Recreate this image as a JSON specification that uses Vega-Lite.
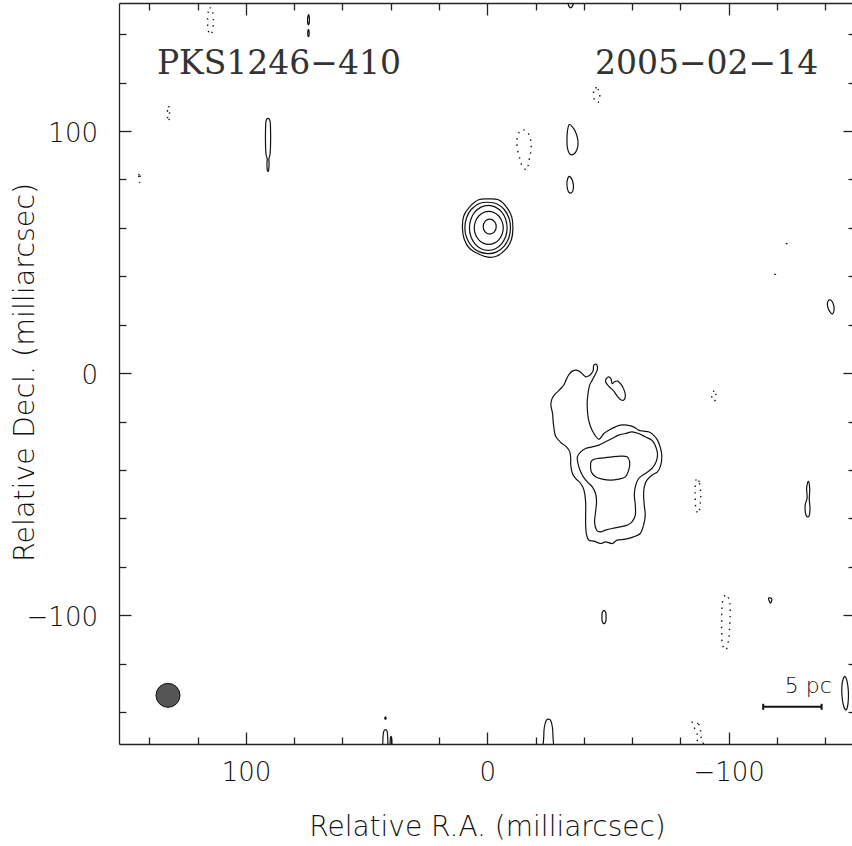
{
"$schema":"https://vega.github.io/schema/vega-lite/v6.json",
"width":733,"height":741,
"autosize":{"type":"none"},
"padding":{"left":119,"top":3,"right":0,"bottom":102},
"background":"white",
"config":{"view":{"stroke":null}},
"resolve":{"axis":{"x":"independent","y":"independent"}},
"datasets":{"contours":[
{"id":"c1","kind":"p","i":0,"ra":10.3,"dec":60},{"id":"c1","kind":"p","i":1,"ra":9.8,"dec":64.8},{"id":"c1","kind":"p","i":2,"ra":7.4,"dec":68.6},{"id":"c1","kind":"p","i":3,"ra":3.6,"dec":71.6},{"id":"c1","kind":"p","i":4,"ra":-0.5,"dec":72.0},{"id":"c1","kind":"p","i":5,"ra":-4.6,"dec":71.6},{"id":"c1","kind":"p","i":6,"ra":-7.8,"dec":68.8},{"id":"c1","kind":"p","i":7,"ra":-10.1,"dec":64.6},{"id":"c1","kind":"p","i":8,"ra":-10.6,"dec":59.8},{"id":"c1","kind":"p","i":9,"ra":-10.0,"dec":55.2},{"id":"c1","kind":"p","i":10,"ra":-7.8,"dec":51.3},{"id":"c1","kind":"p","i":11,"ra":-4.0,"dec":48.4},{"id":"c1","kind":"p","i":12,"ra":-0.3,"dec":47.9},{"id":"c1","kind":"p","i":13,"ra":3.6,"dec":49.2},{"id":"c1","kind":"p","i":14,"ra":7.4,"dec":51.6},{"id":"c1","kind":"p","i":15,"ra":9.6,"dec":55.4},
{"id":"c2","kind":"p","i":0,"ra":9.3,"dec":60},{"id":"c2","kind":"p","i":1,"ra":8.6,"dec":64.2},{"id":"c2","kind":"p","i":2,"ra":6.6,"dec":67.7},{"id":"c2","kind":"p","i":3,"ra":3.3,"dec":70.1},{"id":"c2","kind":"p","i":4,"ra":-0.4,"dec":70.6},{"id":"c2","kind":"p","i":5,"ra":-3.9,"dec":70.0},{"id":"c2","kind":"p","i":6,"ra":-7.0,"dec":67.6},{"id":"c2","kind":"p","i":7,"ra":-9.0,"dec":64.0},{"id":"c2","kind":"p","i":8,"ra":-9.6,"dec":60.0},{"id":"c2","kind":"p","i":9,"ra":-8.9,"dec":55.8},{"id":"c2","kind":"p","i":10,"ra":-6.9,"dec":52.4},{"id":"c2","kind":"p","i":11,"ra":-3.7,"dec":50.0},{"id":"c2","kind":"p","i":12,"ra":-0.2,"dec":49.4},{"id":"c2","kind":"p","i":13,"ra":3.5,"dec":50.2},{"id":"c2","kind":"p","i":14,"ra":6.5,"dec":52.5},{"id":"c2","kind":"p","i":15,"ra":8.6,"dec":56.0},
{"id":"c3","kind":"p","i":0,"ra":7.4,"dec":60},{"id":"c3","kind":"p","i":1,"ra":6.81,"dec":63.56},{"id":"c3","kind":"p","i":2,"ra":5.11,"dec":66.58},{"id":"c3","kind":"p","i":3,"ra":2.59,"dec":68.59},{"id":"c3","kind":"p","i":4,"ra":-0.4,"dec":69.3},{"id":"c3","kind":"p","i":5,"ra":-3.39,"dec":68.59},{"id":"c3","kind":"p","i":6,"ra":-5.91,"dec":66.58},{"id":"c3","kind":"p","i":7,"ra":-7.61,"dec":63.56},{"id":"c3","kind":"p","i":8,"ra":-8.2,"dec":60},{"id":"c3","kind":"p","i":9,"ra":-7.61,"dec":56.44},{"id":"c3","kind":"p","i":10,"ra":-5.91,"dec":53.42},{"id":"c3","kind":"p","i":11,"ra":-3.39,"dec":51.41},{"id":"c3","kind":"p","i":12,"ra":-0.4,"dec":50.7},{"id":"c3","kind":"p","i":13,"ra":2.59,"dec":51.41},{"id":"c3","kind":"p","i":14,"ra":5.11,"dec":53.42},{"id":"c3","kind":"p","i":15,"ra":6.81,"dec":56.44},
{"id":"c4","kind":"p","i":0,"ra":5.4,"dec":60},{"id":"c4","kind":"p","i":1,"ra":4.94,"dec":62.6},{"id":"c4","kind":"p","i":2,"ra":3.64,"dec":64.81},{"id":"c4","kind":"p","i":3,"ra":1.7,"dec":66.28},{"id":"c4","kind":"p","i":4,"ra":-0.6,"dec":66.8},{"id":"c4","kind":"p","i":5,"ra":-2.9,"dec":66.28},{"id":"c4","kind":"p","i":6,"ra":-4.84,"dec":64.81},{"id":"c4","kind":"p","i":7,"ra":-6.14,"dec":62.6},{"id":"c4","kind":"p","i":8,"ra":-6.6,"dec":60},{"id":"c4","kind":"p","i":9,"ra":-6.14,"dec":57.4},{"id":"c4","kind":"p","i":10,"ra":-4.84,"dec":55.19},{"id":"c4","kind":"p","i":11,"ra":-2.9,"dec":53.72},{"id":"c4","kind":"p","i":12,"ra":-0.6,"dec":53.2},{"id":"c4","kind":"p","i":13,"ra":1.7,"dec":53.72},{"id":"c4","kind":"p","i":14,"ra":3.64,"dec":55.19},{"id":"c4","kind":"p","i":15,"ra":4.94,"dec":57.4},
{"id":"c5","kind":"p","i":0,"ra":1.7,"dec":60.5},{"id":"c5","kind":"p","i":1,"ra":0.91,"dec":62.69},{"id":"c5","kind":"p","i":2,"ra":-1,"dec":63.6},{"id":"c5","kind":"p","i":3,"ra":-2.91,"dec":62.69},{"id":"c5","kind":"p","i":4,"ra":-3.7,"dec":60.5},{"id":"c5","kind":"p","i":5,"ra":-2.91,"dec":58.31},{"id":"c5","kind":"p","i":6,"ra":-1,"dec":57.4},{"id":"c5","kind":"p","i":7,"ra":0.91,"dec":58.31},
{"id":"L1","kind":"p","i":1,"ra":-43.9,"dec":1.24},{"id":"L1","kind":"p","i":2,"ra":-43.21,"dec":-0.14},{"id":"L1","kind":"p","i":3,"ra":-42.11,"dec":-1.1},{"id":"L1","kind":"p","i":4,"ra":-40.74,"dec":-1.52},{"id":"L1","kind":"p","i":5,"ra":-39.64,"dec":-0.55},{"id":"L1","kind":"p","i":6,"ra":-38.41,"dec":0.55},{"id":"L1","kind":"p","i":7,"ra":-36.9,"dec":1.24},{"id":"L1","kind":"p","i":8,"ra":-35.25,"dec":0.83},{"id":"L1","kind":"p","i":9,"ra":-33.88,"dec":-0.55},{"id":"L1","kind":"p","i":10,"ra":-32.78,"dec":-2.48},{"id":"L1","kind":"p","i":11,"ra":-31.82,"dec":-4.68},{"id":"L1","kind":"p","i":12,"ra":-30.45,"dec":-6.34},{"id":"L1","kind":"p","i":13,"ra":-29.08,"dec":-7.71},{"id":"L1","kind":"p","i":14,"ra":-27.71,"dec":-9.09},{"id":"L1","kind":"p","i":15,"ra":-26.75,"dec":-10.74},{"id":"L1","kind":"p","i":16,"ra":-26.34,"dec":-13.22},{"id":"L1","kind":"p","i":17,"ra":-27.02,"dec":-16.67},{"id":"L1","kind":"p","i":18,"ra":-27.3,"dec":-20.11},{"id":"L1","kind":"p","i":19,"ra":-27.71,"dec":-23.55},{"id":"L1","kind":"p","i":20,"ra":-28.4,"dec":-26.31},{"id":"L1","kind":"p","i":21,"ra":-30.45,"dec":-28.65},{"id":"L1","kind":"p","i":22,"ra":-32.78,"dec":-30.44},{"id":"L1","kind":"p","i":23,"ra":-34.16,"dec":-32.51},{"id":"L1","kind":"p","i":24,"ra":-34.57,"dec":-35.26},{"id":"L1","kind":"p","i":25,"ra":-34.57,"dec":-38.02},{"id":"L1","kind":"p","i":26,"ra":-35.26,"dec":-41.46},{"id":"L1","kind":"p","i":27,"ra":-36.63,"dec":-43.53},{"id":"L1","kind":"p","i":28,"ra":-38.69,"dec":-45.59},{"id":"L1","kind":"p","i":29,"ra":-40.06,"dec":-48.35},{"id":"L1","kind":"p","i":30,"ra":-40.74,"dec":-53.17},{"id":"L1","kind":"p","i":31,"ra":-40.74,"dec":-58.68},{"id":"L1","kind":"p","i":32,"ra":-40.74,"dec":-62.81},{"id":"L1","kind":"p","i":33,"ra":-41.15,"dec":-66.94},{"id":"L1","kind":"p","i":34,"ra":-42.11,"dec":-69.01},{"id":"L1","kind":"p","i":35,"ra":-44.17,"dec":-69.42},{"id":"L1","kind":"p","i":36,"ra":-46.92,"dec":-70.38},{"id":"L1","kind":"p","i":37,"ra":-48.97,"dec":-69.7},{"id":"L1","kind":"p","i":38,"ra":-51.72,"dec":-70.38},{"id":"L1","kind":"p","i":39,"ra":-53.77,"dec":-69.01},{"id":"L1","kind":"p","i":40,"ra":-57.2,"dec":-68.59},{"id":"L1","kind":"p","i":41,"ra":-60.63,"dec":-67.63},{"id":"L1","kind":"p","i":42,"ra":-63.38,"dec":-66.25},{"id":"L1","kind":"p","i":43,"ra":-64.75,"dec":-62.81},{"id":"L1","kind":"p","i":44,"ra":-65.43,"dec":-58.68},{"id":"L1","kind":"p","i":45,"ra":-65.02,"dec":-54.54},{"id":"L1","kind":"p","i":46,"ra":-64.75,"dec":-50.41},{"id":"L1","kind":"p","i":47,"ra":-65.02,"dec":-46.97},{"id":"L1","kind":"p","i":48,"ra":-66.12,"dec":-44.21},{"id":"L1","kind":"p","i":49,"ra":-68.18,"dec":-42.15},{"id":"L1","kind":"p","i":50,"ra":-70.51,"dec":-40.77},{"id":"L1","kind":"p","i":51,"ra":-71.88,"dec":-38.02},{"id":"L1","kind":"p","i":52,"ra":-72.29,"dec":-33.88},{"id":"L1","kind":"p","i":53,"ra":-71.61,"dec":-30.44},{"id":"L1","kind":"p","i":54,"ra":-70.51,"dec":-27.69},{"id":"L1","kind":"p","i":55,"ra":-68.86,"dec":-25.62},{"id":"L1","kind":"p","i":56,"ra":-66.81,"dec":-24.24},{"id":"L1","kind":"p","i":57,"ra":-64.75,"dec":-23.97},{"id":"L1","kind":"p","i":58,"ra":-62.69,"dec":-23.55},{"id":"L1","kind":"p","i":59,"ra":-60.63,"dec":-22.18},{"id":"L1","kind":"p","i":60,"ra":-57.89,"dec":-21.49},{"id":"L1","kind":"p","i":61,"ra":-55.15,"dec":-21.49},{"id":"L1","kind":"p","i":62,"ra":-53.09,"dec":-22.18},{"id":"L1","kind":"p","i":63,"ra":-50.35,"dec":-23.55},{"id":"L1","kind":"p","i":64,"ra":-48.29,"dec":-24.93},{"id":"L1","kind":"p","i":65,"ra":-46.23,"dec":-27.27},{"id":"L1","kind":"p","i":66,"ra":-44.17,"dec":-24.93},{"id":"L1","kind":"p","i":67,"ra":-42.8,"dec":-22.18},{"id":"L1","kind":"p","i":68,"ra":-41.84,"dec":-18.73},{"id":"L1","kind":"p","i":69,"ra":-41.43,"dec":-14.6},{"id":"L1","kind":"p","i":70,"ra":-41.43,"dec":-11.16},{"id":"L1","kind":"p","i":71,"ra":-41.84,"dec":-7.71},{"id":"L1","kind":"p","i":72,"ra":-42.39,"dec":-4.96},{"id":"L1","kind":"p","i":73,"ra":-43.48,"dec":-2.89},{"id":"L1","kind":"p","i":74,"ra":-44.58,"dec":-0.83},{"id":"L1","kind":"p","i":75,"ra":-45.54,"dec":1.24},{"id":"L1","kind":"p","i":76,"ra":-45.54,"dec":3.03},{"id":"L1","kind":"p","i":77,"ra":-44.86,"dec":3.72},{"id":"L1","kind":"p","i":78,"ra":-44.03,"dec":3.03},
{"id":"L2","kind":"p","i":1,"ra":-37.31,"dec":-34.57},{"id":"L2","kind":"p","i":2,"ra":-38.69,"dec":-32.51},{"id":"L2","kind":"p","i":3,"ra":-40.74,"dec":-31.13},{"id":"L2","kind":"p","i":4,"ra":-43.49,"dec":-30.44},{"id":"L2","kind":"p","i":5,"ra":-46.23,"dec":-29.75},{"id":"L2","kind":"p","i":6,"ra":-48.97,"dec":-28.37},{"id":"L2","kind":"p","i":7,"ra":-51.72,"dec":-27.0},{"id":"L2","kind":"p","i":8,"ra":-54.46,"dec":-25.62},{"id":"L2","kind":"p","i":9,"ra":-57.2,"dec":-24.93},{"id":"L2","kind":"p","i":10,"ra":-59.95,"dec":-24.24},{"id":"L2","kind":"p","i":11,"ra":-62.69,"dec":-24.93},{"id":"L2","kind":"p","i":12,"ra":-65.43,"dec":-26.31},{"id":"L2","kind":"p","i":13,"ra":-68.18,"dec":-27.69},{"id":"L2","kind":"p","i":14,"ra":-69.55,"dec":-29.75},{"id":"L2","kind":"p","i":15,"ra":-70.51,"dec":-33.2},{"id":"L2","kind":"p","i":16,"ra":-69.96,"dec":-36.64},{"id":"L2","kind":"p","i":17,"ra":-68.18,"dec":-39.39},{"id":"L2","kind":"p","i":18,"ra":-65.43,"dec":-41.46},{"id":"L2","kind":"p","i":19,"ra":-62.69,"dec":-43.53},{"id":"L2","kind":"p","i":20,"ra":-61.32,"dec":-46.97},{"id":"L2","kind":"p","i":21,"ra":-60.91,"dec":-50.41},{"id":"L2","kind":"p","i":22,"ra":-61.32,"dec":-54.54},{"id":"L2","kind":"p","i":23,"ra":-61.32,"dec":-58.68},{"id":"L2","kind":"p","i":24,"ra":-59.95,"dec":-61.43},{"id":"L2","kind":"p","i":25,"ra":-57.89,"dec":-62.81},{"id":"L2","kind":"p","i":26,"ra":-55.15,"dec":-63.5},{"id":"L2","kind":"p","i":27,"ra":-51.72,"dec":-64.19},{"id":"L2","kind":"p","i":28,"ra":-48.97,"dec":-64.88},{"id":"L2","kind":"p","i":29,"ra":-46.92,"dec":-65.56},{"id":"L2","kind":"p","i":30,"ra":-45.27,"dec":-64.88},{"id":"L2","kind":"p","i":31,"ra":-44.45,"dec":-61.43},{"id":"L2","kind":"p","i":32,"ra":-44.86,"dec":-57.3},{"id":"L2","kind":"p","i":33,"ra":-45.27,"dec":-53.17},{"id":"L2","kind":"p","i":34,"ra":-44.86,"dec":-49.72},{"id":"L2","kind":"p","i":35,"ra":-43.49,"dec":-46.97},{"id":"L2","kind":"p","i":36,"ra":-41.43,"dec":-44.9},{"id":"L2","kind":"p","i":37,"ra":-39.78,"dec":-42.84},{"id":"L2","kind":"p","i":38,"ra":-38.41,"dec":-40.08},{"id":"L2","kind":"p","i":39,"ra":-37.59,"dec":-37.33},
{"id":"L3","kind":"p","i":1,"ra":-42.8,"dec":-37.33},{"id":"L3","kind":"p","i":2,"ra":-43.49,"dec":-35.95},{"id":"L3","kind":"p","i":3,"ra":-45.54,"dec":-35.26},{"id":"L3","kind":"p","i":4,"ra":-48.29,"dec":-34.99},{"id":"L3","kind":"p","i":5,"ra":-51.72,"dec":-34.57},{"id":"L3","kind":"p","i":6,"ra":-55.15,"dec":-34.3},{"id":"L3","kind":"p","i":7,"ra":-57.89,"dec":-34.57},{"id":"L3","kind":"p","i":8,"ra":-58.99,"dec":-36.64},{"id":"L3","kind":"p","i":9,"ra":-58.58,"dec":-40.08},{"id":"L3","kind":"p","i":10,"ra":-57.2,"dec":-42.84},{"id":"L3","kind":"p","i":11,"ra":-54.46,"dec":-43.8},{"id":"L3","kind":"p","i":12,"ra":-51.03,"dec":-44.21},{"id":"L3","kind":"p","i":13,"ra":-47.6,"dec":-43.8},{"id":"L3","kind":"p","i":14,"ra":-44.86,"dec":-42.84},{"id":"L3","kind":"p","i":15,"ra":-43.07,"dec":-40.77},
{"id":"L4","kind":"p","i":1,"ra":-49.38,"dec":-2.2},{"id":"L4","kind":"p","i":2,"ra":-50.34,"dec":-1.52},{"id":"L4","kind":"p","i":3,"ra":-51.3,"dec":-2.48},{"id":"L4","kind":"p","i":4,"ra":-51.71,"dec":-4.27},{"id":"L4","kind":"p","i":5,"ra":-52.67,"dec":-3.58},{"id":"L4","kind":"p","i":6,"ra":-54.05,"dec":-3.3},{"id":"L4","kind":"p","i":7,"ra":-55.42,"dec":-4.68},{"id":"L4","kind":"p","i":8,"ra":-56.52,"dec":-6.61},{"id":"L4","kind":"p","i":9,"ra":-57.2,"dec":-9.09},{"id":"L4","kind":"p","i":10,"ra":-56.52,"dec":-11.16},{"id":"L4","kind":"p","i":11,"ra":-55.14,"dec":-10.88},{"id":"L4","kind":"p","i":12,"ra":-53.77,"dec":-9.37},{"id":"L4","kind":"p","i":13,"ra":-52.4,"dec":-7.44},{"id":"L4","kind":"p","i":14,"ra":-51.03,"dec":-6.06},{"id":"L4","kind":"p","i":15,"ra":-49.66,"dec":-4.68},{"id":"L4","kind":"p","i":16,"ra":-48.97,"dec":-3.3},
{"id":"F4","kind":"p","i":1,"ra":90.9,"dec":105.2},{"id":"F4","kind":"p","i":2,"ra":90.0,"dec":104.0},{"id":"F4","kind":"p","i":3,"ra":89.8,"dec":100},{"id":"F4","kind":"p","i":4,"ra":89.8,"dec":95},{"id":"F4","kind":"p","i":5,"ra":90.0,"dec":90.5},{"id":"F4","kind":"p","i":6,"ra":90.5,"dec":88.5},{"id":"F4","kind":"p","i":7,"ra":90.4,"dec":86.5},{"id":"F4","kind":"p","i":8,"ra":90.6,"dec":84.0},{"id":"F4","kind":"p","i":9,"ra":90.9,"dec":83.3},{"id":"F4","kind":"p","i":10,"ra":91.2,"dec":84.0},{"id":"F4","kind":"p","i":11,"ra":91.3,"dec":86.5},{"id":"F4","kind":"p","i":12,"ra":91.2,"dec":88.5},{"id":"F4","kind":"p","i":13,"ra":91.7,"dec":90.5},{"id":"F4","kind":"p","i":14,"ra":91.9,"dec":95},{"id":"F4","kind":"p","i":15,"ra":91.9,"dec":100},{"id":"F4","kind":"p","i":16,"ra":91.7,"dec":104.0},
{"id":"F5a","kind":"p","i":1,"ra":74.1,"dec":148.1},{"id":"F5a","kind":"p","i":2,"ra":73.7,"dec":146.0},{"id":"F5a","kind":"p","i":3,"ra":74.1,"dec":143.9},{"id":"F5a","kind":"p","i":4,"ra":74.5,"dec":146.0},
{"id":"F5b","kind":"p","i":1,"ra":74.1,"dec":141.9},{"id":"F5b","kind":"p","i":2,"ra":73.8,"dec":140.4},{"id":"F5b","kind":"p","i":3,"ra":74.1,"dec":139.0},{"id":"F5b","kind":"p","i":4,"ra":74.4,"dec":140.4},
{"id":"F6","kind":"p","i":1,"ra":-33.5,"dec":156},{"id":"F6","kind":"p","i":2,"ra":-33.5,"dec":152.5},{"id":"F6","kind":"p","i":3,"ra":-34.5,"dec":150.9},{"id":"F6","kind":"p","i":4,"ra":-35.6,"dec":152.5},{"id":"F6","kind":"p","i":5,"ra":-35.6,"dec":156},
{"id":"F9","kind":"p","i":1,"ra":-34.0,"dec":102.7},{"id":"F9","kind":"p","i":2,"ra":-35.8,"dec":101.0},{"id":"F9","kind":"p","i":3,"ra":-37.0,"dec":98.5},{"id":"F9","kind":"p","i":4,"ra":-37.6,"dec":95.5},{"id":"F9","kind":"p","i":5,"ra":-37.2,"dec":92.5},{"id":"F9","kind":"p","i":6,"ra":-35.8,"dec":90.5},{"id":"F9","kind":"p","i":7,"ra":-34.2,"dec":90.5},{"id":"F9","kind":"p","i":8,"ra":-33.2,"dec":93},{"id":"F9","kind":"p","i":9,"ra":-33.0,"dec":96},{"id":"F9","kind":"p","i":10,"ra":-33.2,"dec":100},
{"id":"F10","kind":"p","i":1,"ra":-34.0,"dec":81.3},{"id":"F10","kind":"p","i":2,"ra":-35.3,"dec":79.5},{"id":"F10","kind":"p","i":3,"ra":-35.7,"dec":76.5},{"id":"F10","kind":"p","i":4,"ra":-34.9,"dec":74.5},{"id":"F10","kind":"p","i":5,"ra":-33.6,"dec":75},{"id":"F10","kind":"p","i":6,"ra":-33.0,"dec":77.5},{"id":"F10","kind":"p","i":7,"ra":-33.2,"dec":80},
{"id":"F13","kind":"p","i":1,"ra":-142.0,"dec":30.3},{"id":"F13","kind":"p","i":2,"ra":-143.2,"dec":29.0},{"id":"F13","kind":"p","i":3,"ra":-143.7,"dec":26.5},{"id":"F13","kind":"p","i":4,"ra":-143.1,"dec":24.5},{"id":"F13","kind":"p","i":5,"ra":-142.2,"dec":25.0},{"id":"F13","kind":"p","i":6,"ra":-141.2,"dec":26.8},{"id":"F13","kind":"p","i":7,"ra":-140.9,"dec":28.6},{"id":"F13","kind":"p","i":8,"ra":-141.2,"dec":29.8},
{"id":"F16","kind":"p","i":1,"ra":-133.0,"dec":-44.7},{"id":"F16","kind":"p","i":2,"ra":-133.6,"dec":-48.0},{"id":"F16","kind":"p","i":3,"ra":-133.4,"dec":-52.0},{"id":"F16","kind":"p","i":4,"ra":-133.7,"dec":-56.0},{"id":"F16","kind":"p","i":5,"ra":-133.2,"dec":-59.2},{"id":"F16","kind":"p","i":6,"ra":-132.0,"dec":-58.5},{"id":"F16","kind":"p","i":7,"ra":-131.7,"dec":-54.5},{"id":"F16","kind":"p","i":8,"ra":-132.5,"dec":-51.5},{"id":"F16","kind":"p","i":9,"ra":-132.3,"dec":-47.5},
{"id":"F17","kind":"p","i":1,"ra":-48.35,"dec":-98.0},{"id":"F17","kind":"p","i":2,"ra":-49.1,"dec":-99.0},{"id":"F17","kind":"p","i":3,"ra":-49.2,"dec":-100.75},{"id":"F17","kind":"p","i":4,"ra":-49.1,"dec":-102.5},{"id":"F17","kind":"p","i":5,"ra":-48.35,"dec":-103.5},{"id":"F17","kind":"p","i":6,"ra":-47.6,"dec":-102.5},{"id":"F17","kind":"p","i":7,"ra":-47.5,"dec":-100.75},{"id":"F17","kind":"p","i":8,"ra":-47.6,"dec":-99.0},
{"id":"F19","kind":"p","i":1,"ra":-116.5,"dec":-92.9},{"id":"F19","kind":"p","i":2,"ra":-117.9,"dec":-93.3},{"id":"F19","kind":"p","i":3,"ra":-117.3,"dec":-95.0},
{"id":"F20","kind":"p","i":1,"ra":-148.2,"dec":-125.3},{"id":"F20","kind":"p","i":2,"ra":-149.1,"dec":-127.5},{"id":"F20","kind":"p","i":3,"ra":-149.6,"dec":-131.5},{"id":"F20","kind":"p","i":4,"ra":-149.5,"dec":-136},{"id":"F20","kind":"p","i":5,"ra":-148.8,"dec":-139.0},{"id":"F20","kind":"p","i":6,"ra":-147.8,"dec":-138.0},{"id":"F20","kind":"p","i":7,"ra":-147.0,"dec":-134},{"id":"F20","kind":"p","i":8,"ra":-146.9,"dec":-129.5},{"id":"F20","kind":"p","i":9,"ra":-147.4,"dec":-126.5},
{"id":"F21","kind":"p","i":1,"ra":-23.4,"dec":-156},{"id":"F21","kind":"p","i":2,"ra":-23.4,"dec":-150},{"id":"F21","kind":"p","i":3,"ra":-23.6,"dec":-146.5},{"id":"F21","kind":"p","i":4,"ra":-24.4,"dec":-143.5},{"id":"F21","kind":"p","i":5,"ra":-25.3,"dec":-142.9},{"id":"F21","kind":"p","i":6,"ra":-26.3,"dec":-143.6},{"id":"F21","kind":"p","i":7,"ra":-27.0,"dec":-146.5},{"id":"F21","kind":"p","i":8,"ra":-27.2,"dec":-150},{"id":"F21","kind":"p","i":9,"ra":-27.2,"dec":-156},
{"id":"F23","kind":"p","i":1,"ra":42.2,"dec":-142.0},{"id":"F23","kind":"p","i":2,"ra":41.9,"dec":-142.8},{"id":"F23","kind":"p","i":3,"ra":42.5,"dec":-142.8},
{"id":"F24a","kind":"p","i":1,"ra":43.2,"dec":-156},{"id":"F24a","kind":"p","i":2,"ra":43.2,"dec":-150},{"id":"F24a","kind":"p","i":3,"ra":42.9,"dec":-148},{"id":"F24a","kind":"p","i":4,"ra":42.2,"dec":-147.3},{"id":"F24a","kind":"p","i":5,"ra":41.5,"dec":-148},{"id":"F24a","kind":"p","i":6,"ra":41.3,"dec":-150},{"id":"F24a","kind":"p","i":7,"ra":41.3,"dec":-156},
{"id":"F24b","kind":"p","i":1,"ra":40.2,"dec":-156},{"id":"F24b","kind":"p","i":2,"ra":40.2,"dec":-151},{"id":"F24b","kind":"p","i":3,"ra":39.9,"dec":-150.0},{"id":"F24b","kind":"p","i":4,"ra":39.6,"dec":-151},{"id":"F24b","kind":"p","i":5,"ra":39.6,"dec":-156},
{"id":"N1","kind":"n","i":1,"ra":114.7,"dec":150.9},{"id":"N1","kind":"n","i":2,"ra":115.6,"dec":149.3},{"id":"N1","kind":"n","i":3,"ra":115.9,"dec":145.4},{"id":"N1","kind":"n","i":4,"ra":115.6,"dec":141.5},{"id":"N1","kind":"n","i":5,"ra":114.7,"dec":139.9},{"id":"N1","kind":"n","i":6,"ra":113.8,"dec":141.5},{"id":"N1","kind":"n","i":7,"ra":113.5,"dec":145.4},{"id":"N1","kind":"n","i":8,"ra":113.8,"dec":149.3},
{"id":"N2","kind":"n","i":1,"ra":132.1,"dec":110.5},{"id":"N2","kind":"n","i":2,"ra":132.5,"dec":108.5},{"id":"N2","kind":"n","i":3,"ra":132.5,"dec":105.8},{"id":"N2","kind":"n","i":4,"ra":132.1,"dec":103.9},{"id":"N2","kind":"n","i":5,"ra":131.7,"dec":105.8},{"id":"N2","kind":"n","i":6,"ra":131.7,"dec":108.5},
{"id":"N3","kind":"n","i":1,"ra":144.1,"dec":83.0},{"id":"N3","kind":"n","i":2,"ra":144.4,"dec":81.5},{"id":"N3","kind":"n","i":3,"ra":144.3,"dec":79.5},{"id":"N3","kind":"n","i":4,"ra":144.1,"dec":78.7},{"id":"N3","kind":"n","i":5,"ra":143.8,"dec":79.5},{"id":"N3","kind":"n","i":6,"ra":143.8,"dec":81.5},
{"id":"N7","kind":"n","i":1,"ra":-44.6,"dec":118.0},{"id":"N7","kind":"n","i":2,"ra":-45.8,"dec":117.3},{"id":"N7","kind":"n","i":3,"ra":-46.6,"dec":115.5},{"id":"N7","kind":"n","i":4,"ra":-46.4,"dec":113},{"id":"N7","kind":"n","i":5,"ra":-45.8,"dec":111.8},{"id":"N7","kind":"n","i":6,"ra":-44.6,"dec":112.5},{"id":"N7","kind":"n","i":7,"ra":-44.0,"dec":114.5},{"id":"N7","kind":"n","i":8,"ra":-44.1,"dec":116.8},
{"id":"N8","kind":"n","i":1,"ra":-14.8,"dec":100.6},{"id":"N8","kind":"n","i":2,"ra":-17.0,"dec":99.0},{"id":"N8","kind":"n","i":3,"ra":-18.1,"dec":95.5},{"id":"N8","kind":"n","i":4,"ra":-18.0,"dec":91.5},{"id":"N8","kind":"n","i":5,"ra":-17.3,"dec":88},{"id":"N8","kind":"n","i":6,"ra":-16.4,"dec":84.1},{"id":"N8","kind":"n","i":7,"ra":-14.5,"dec":85.5},{"id":"N8","kind":"n","i":8,"ra":-13.5,"dec":88.5},{"id":"N8","kind":"n","i":9,"ra":-12.5,"dec":92.5},{"id":"N8","kind":"n","i":10,"ra":-12.3,"dec":96.5},{"id":"N8","kind":"n","i":11,"ra":-13.2,"dec":99.5},
{"id":"N11","kind":"n","i":1,"ra":-124.1,"dec":54.0},{"id":"N11","kind":"n","i":2,"ra":-124.3,"dec":53.6},{"id":"N11","kind":"n","i":3,"ra":-123.9,"dec":53.6},
{"id":"N12","kind":"n","i":1,"ra":-119.3,"dec":41.3},{"id":"N12","kind":"n","i":2,"ra":-119.5,"dec":40.9},{"id":"N12","kind":"n","i":3,"ra":-119.1,"dec":40.9},
{"id":"N14","kind":"n","i":1,"ra":-93.6,"dec":-7.5},{"id":"N14","kind":"n","i":2,"ra":-94.6,"dec":-8.5},{"id":"N14","kind":"n","i":3,"ra":-94.8,"dec":-10.5},{"id":"N14","kind":"n","i":4,"ra":-94.0,"dec":-11.6},{"id":"N14","kind":"n","i":5,"ra":-93.2,"dec":-10.8},{"id":"N14","kind":"n","i":6,"ra":-93.0,"dec":-8.8},
{"id":"N15","kind":"n","i":1,"ra":-86.9,"dec":-43.3},{"id":"N15","kind":"n","i":2,"ra":-87.9,"dec":-45.5},{"id":"N15","kind":"n","i":3,"ra":-88.4,"dec":-49.5},{"id":"N15","kind":"n","i":4,"ra":-88.3,"dec":-53.5},{"id":"N15","kind":"n","i":5,"ra":-87.6,"dec":-57.8},{"id":"N15","kind":"n","i":6,"ra":-86.5,"dec":-56.5},{"id":"N15","kind":"n","i":7,"ra":-86.2,"dec":-53.0},{"id":"N15","kind":"n","i":8,"ra":-86.1,"dec":-49.5},{"id":"N15","kind":"n","i":9,"ra":-86.2,"dec":-45.5},
{"id":"N18","kind":"n","i":1,"ra":-99.2,"dec":-91.5},{"id":"N18","kind":"n","i":2,"ra":-100.5,"dec":-95},{"id":"N18","kind":"n","i":3,"ra":-100.6,"dec":-100},{"id":"N18","kind":"n","i":4,"ra":-100.4,"dec":-105},{"id":"N18","kind":"n","i":5,"ra":-100.0,"dec":-110},{"id":"N18","kind":"n","i":6,"ra":-98.9,"dec":-114.3},{"id":"N18","kind":"n","i":7,"ra":-97.4,"dec":-112},{"id":"N18","kind":"n","i":8,"ra":-97.1,"dec":-107},{"id":"N18","kind":"n","i":9,"ra":-97.1,"dec":-102},{"id":"N18","kind":"n","i":10,"ra":-97.2,"dec":-97},{"id":"N18","kind":"n","i":11,"ra":-97.8,"dec":-93},
{"id":"N22","kind":"n","i":1,"ra":-85.0,"dec":-143.9},{"id":"N22","kind":"n","i":2,"ra":-87.5,"dec":-145},{"id":"N22","kind":"n","i":3,"ra":-88.3,"dec":-147.5},{"id":"N22","kind":"n","i":4,"ra":-88.6,"dec":-150.5},{"id":"N22","kind":"n","i":5,"ra":-89.5,"dec":-153},{"id":"N22","kind":"n","i":6,"ra":-89.5,"dec":-156},{"id":"N22","kind":"n","i":7,"ra":-86.5,"dec":-156},{"id":"N22","kind":"n","i":8,"ra":-87.0,"dec":-152},{"id":"N22","kind":"n","i":9,"ra":-86.8,"dec":-148.5},{"id":"N22","kind":"n","i":10,"ra":-85.5,"dec":-146}
]},
"layer":[
{"data":{"name":"contours"},
 "transform":[{"filter":"datum.kind === 'p'"}],
 "mark":{"type":"line","interpolate":"cardinal-closed","stroke":"#111","strokeWidth":1.2,"clip":true},
 "encoding":{
  "x":{"field":"ra","type":"quantitative","scale":{"domain":[-151.1,152.6],"reverse":true,"nice":false,"zero":false},
   "axis":{"orient":"bottom","values":[140,120,100,80,60,40,20,0,-20,-40,-60,-80,-100,-120,-140],
    "labelExpr":"datum.value % 100 === 0 ? datum.label : ''",
    "tickSize":{"condition":{"test":"datum.value % 100 === 0","value":-12},"value":-7},
    "tickColor":"#222","tickWidth":1.3,"domain":true,"domainColor":"#222","domainWidth":1.3,"grid":false,
    "labelFont":"DejaVu Sans","labelFontWeight":200,"labelFontSize":26,"labelColor":"#111","labelPadding":27.5,
    "labelOverlap":false,"labelFlush":false,"labelBaseline":"top",
    "title":"Relative R.A. (milliarcsec)","titleFont":"DejaVu Sans","titleFontWeight":200,"titleFontSize":28,"titleColor":"#111",
    "titleX":368,"titleY":91,"titleBaseline":"alphabetic","titleAlign":"center"}},
  "y":{"field":"dec","type":"quantitative","scale":{"domain":[-153.2,152.9],"nice":false,"zero":false},
   "axis":{"orient":"left","values":[140,120,100,80,60,40,20,0,-20,-40,-60,-80,-100,-120,-140],
    "labelExpr":"datum.value % 100 === 0 ? datum.label : ''",
    "tickSize":{"condition":{"test":"datum.value % 100 === 0","value":-12},"value":-7},
    "tickColor":"#222","tickWidth":1.3,"domain":true,"domainColor":"#222","domainWidth":1.3,"grid":false,
    "labelFont":"DejaVu Sans","labelFontWeight":200,"labelFontSize":26,"labelColor":"#111","labelPadding":33.5,
    "labelOverlap":false,"labelFlush":false,"labelOffset":2,
    "title":"Relative Decl. (milliarcsec)","titleFont":"DejaVu Sans","titleFontWeight":200,"titleFontSize":28.5,"titleColor":"#111",
    "titleX":-86,"titleY":369,"titleBaseline":"alphabetic","titleAlign":"center","titleAngle":270}},
  "detail":{"field":"id"},
  "order":{"field":"i","type":"quantitative"}
 }},
{"data":{"name":"contours"},
 "transform":[{"filter":"datum.kind === 'n'"}],
 "mark":{"type":"line","interpolate":"cardinal-closed","stroke":"#111","strokeWidth":1.4,"strokeDash":[1.4,5],"clip":true},
 "encoding":{
  "x":{"field":"ra","type":"quantitative",
   "axis":{"orient":"top","values":[140,120,100,80,60,40,20,0,-20,-40,-60,-80,-100,-120,-140],"labels":false,
    "tickSize":{"condition":{"test":"datum.value % 100 === 0","value":-12},"value":-7},
    "tickColor":"#222","tickWidth":1.3,"domain":true,"domainColor":"#222","domainWidth":1.3,"grid":false,"title":null}},
  "y":{"field":"dec","type":"quantitative",
   "axis":{"orient":"right","offset":3,"values":[140,120,100,80,60,40,20,0,-20,-40,-60,-80,-100,-120,-140],"labels":false,
    "tickSize":{"condition":{"test":"datum.value % 100 === 0","value":-12},"value":-7},
    "tickColor":"#222","tickWidth":1.3,"domain":false,"grid":false,"title":null}},
  "detail":{"field":"id"},
  "order":{"field":"i","type":"quantitative"}
 }},
{"data":{"values":[{"ra":132.3,"dec":-133.1}]},
 "mark":{"type":"point","shape":"circle","filled":true,"size":576,"fill":"#555555","stroke":"#111","strokeWidth":1,"opacity":1},
 "encoding":{"x":{"field":"ra","type":"quantitative","axis":null},"y":{"field":"dec","type":"quantitative","axis":null}}},
{"data":{"values":[{"ra1":-114.3,"ra2":-138.5,"dec":-137.8}]},
 "mark":{"type":"rule","stroke":"#111","strokeWidth":2},
 "encoding":{"x":{"field":"ra1","type":"quantitative","axis":null},"x2":{"field":"ra2"},"y":{"field":"dec","type":"quantitative","axis":null}}},
{"data":{"values":[{"ra":-114.3,"d1":-136.6,"d2":-139.1},{"ra":-138.5,"d1":-136.6,"d2":-139.1}]},
 "mark":{"type":"rule","stroke":"#111","strokeWidth":2},
 "encoding":{"x":{"field":"ra","type":"quantitative","axis":null},"y":{"field":"d1","type":"quantitative","axis":null},"y2":{"field":"d2"}}},
{"data":{"values":[{"ra":136.9,"dec":123.6,"label":"PKS1246−410"}]},
 "mark":{"type":"text","align":"left","baseline":"alphabetic","font":"DejaVu Serif","fontSize":33,"color":"#333"},
 "encoding":{"x":{"field":"ra","type":"quantitative","axis":null},"y":{"field":"dec","type":"quantitative","axis":null},"text":{"field":"label"}}},
{"data":{"values":[{"ra":-137.1,"dec":123.6,"label":"2005−02−14"}]},
 "mark":{"type":"text","align":"right","baseline":"alphabetic","font":"DejaVu Serif","fontSize":33,"color":"#333"},
 "encoding":{"x":{"field":"ra","type":"quantitative","axis":null},"y":{"field":"dec","type":"quantitative","axis":null},"text":{"field":"label"}}},
{"data":{"values":[{"ra":-133.0,"dec":-132.25,"label":"5 pc"}]},
 "mark":{"type":"text","align":"center","baseline":"alphabetic","font":"DejaVu Sans","fontWeight":200,"fontSize":22,"color":"#111"},
 "encoding":{"x":{"field":"ra","type":"quantitative","axis":null},"y":{"field":"dec","type":"quantitative","axis":null},"text":{"field":"label"}}}
]
}
